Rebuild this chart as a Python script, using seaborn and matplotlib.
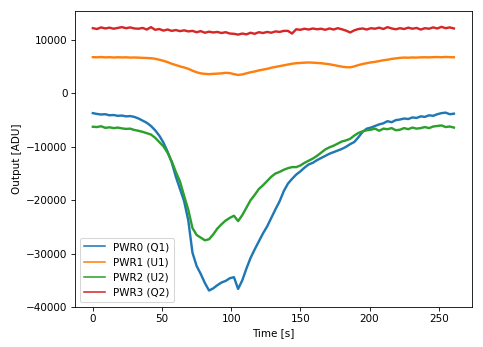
import numpy as np
import pandas as pd
import matplotlib
matplotlib.use("Agg")
import matplotlib.pyplot as plt
import seaborn as sns

# Sample times [s], one reading every 3 s
time_s = np.arange(0, 262, 3)

pwr0_q1 = [
    -3700, -3850, -3950, -3900, -4100, -4050, -4200, -4150, -4300, -4250,
    -4400, -4700, -5100, -5500, -6100, -6900, -7900, -9200, -10900, -12900,
    -15600, -17900, -20200, -23800, -29800, -32300, -33800, -35500, -36900, -36500,
    -35900, -35400, -35100, -34600, -34400, -36600, -35000, -32800, -30800, -29200,
    -27700, -26200, -24900, -23300, -21700, -20200, -18300, -16900, -16000, -15200,
    -14600, -13900, -13300, -13000, -12500, -12100, -11700, -11300, -11000, -10700,
    -10400, -10000, -9500, -9100, -8200, -7200, -6600, -6400, -6100, -5800,
    -5600, -5200, -5400, -5000, -4900, -4700, -4800, -4500, -4600, -4300,
    -4400, -4100, -4200, -3900, -3700, -3600, -3900, -3800,
]

pwr1_u1 = [
    6780, 6760, 6800, 6740, 6770, 6720, 6760, 6730, 6750, 6700,
    6720, 6690, 6650, 6620, 6580, 6480, 6300, 6100, 5850, 5550,
    5300, 5050, 4850, 4600, 4250, 3950, 3750, 3650, 3600, 3650,
    3700, 3750, 3850, 3800, 3600, 3450, 3550, 3750, 3950, 4100,
    4300, 4450, 4600, 4800, 4950, 5100, 5250, 5400, 5550, 5650,
    5700, 5750, 5780, 5750, 5700, 5650, 5550, 5450, 5300, 5150,
    5000, 4900, 4880, 5050, 5300, 5500, 5650, 5800, 5900, 6050,
    6200, 6300, 6450, 6550, 6650, 6700, 6680, 6720, 6700, 6750,
    6760, 6740, 6780, 6800, 6770, 6820, 6780, 6760,
]

pwr2_u2 = [
    -6250, -6300, -6150, -6450, -6350, -6500, -6400, -6550, -6650, -6600,
    -6850, -7000, -7200, -7450, -7700, -8300, -9100, -9900, -11100, -12700,
    -14700, -16500, -19200, -21800, -25200, -26500, -27000, -27500, -27300, -26400,
    -25300, -24500, -23800, -23300, -22900, -23900, -22800, -21400, -20000, -19000,
    -17900, -17200, -16400, -15600, -15000, -14700, -14300, -14000, -13800, -13800,
    -13500, -13000, -12600, -12200, -11700, -11100, -10500, -10100, -9800, -9400,
    -9000, -8800, -8500, -7900, -7400, -7100, -6900, -6800, -6600, -7000,
    -6600, -6700, -6500, -6900, -6800, -6500, -6700, -6400, -6600, -6500,
    -6300, -6500, -6200, -6100, -6000, -6300, -6200, -6400,
]

pwr3_q2 = [
    12200, 12050, 12350, 12150, 12300, 12100, 12250, 12400, 12200, 12350,
    12150, 12100, 12250, 11950, 12400, 11900, 12050, 11750, 11950, 11700,
    11850, 11650, 11800, 11600, 11700, 11450, 11650, 11350, 11550, 11400,
    11500, 11300, 11450, 11200, 11150, 11000, 11200, 11050, 11350, 11150,
    11450, 11300, 11500, 11350, 11600, 11500, 11700, 11700, 11200, 12000,
    11900, 12100, 11950, 12150, 12000, 12100, 11900, 12150, 11950, 12200,
    12000, 11750, 11400, 11800, 12050, 12150, 11950, 12200, 12100, 12300,
    12050, 12400, 12150, 12000, 12200, 12050, 12300, 12100, 12250, 11950,
    12200, 12100, 12350, 12150, 12450, 12200, 12350, 12150,
]

labels = ["PWR0 (Q1)", "PWR1 (U1)", "PWR2 (U2)", "PWR3 (Q2)"]
series = [pwr0_q1, pwr1_u1, pwr2_u2, pwr3_q2]
colors = sns.color_palette("tab10", 4)

fig = plt.figure(figsize=(483 / 75, 347 / 75), dpi=75)
ax = fig.add_axes([0.155, 0.115, 0.822, 0.853])

for label, values, color in zip(labels, series, colors):
    df = pd.DataFrame({"Time [s]": time_s, "Output [ADU]": values})
    sns.lineplot(data=df, x="Time [s]", y="Output [ADU]", ax=ax,
                 color=color, linewidth=2.3, label=label)

ax.set_xlim(-13, 274)
ax.set_ylim(-40000, 15400)
ax.set_xticks([0, 50, 100, 150, 200, 250])
ax.set_yticks([-40000, -30000, -20000, -10000, 0, 10000])
ax.tick_params(labelsize=10)
ax.set_xlabel("Time [s]", fontsize=10)
ax.set_ylabel("Output [ADU]", fontsize=10)

leg = ax.legend(loc="lower left", fontsize=10)
for line in leg.get_lines():
    line.set_linewidth(1.5)

fig.savefig("out.png", dpi=75)
